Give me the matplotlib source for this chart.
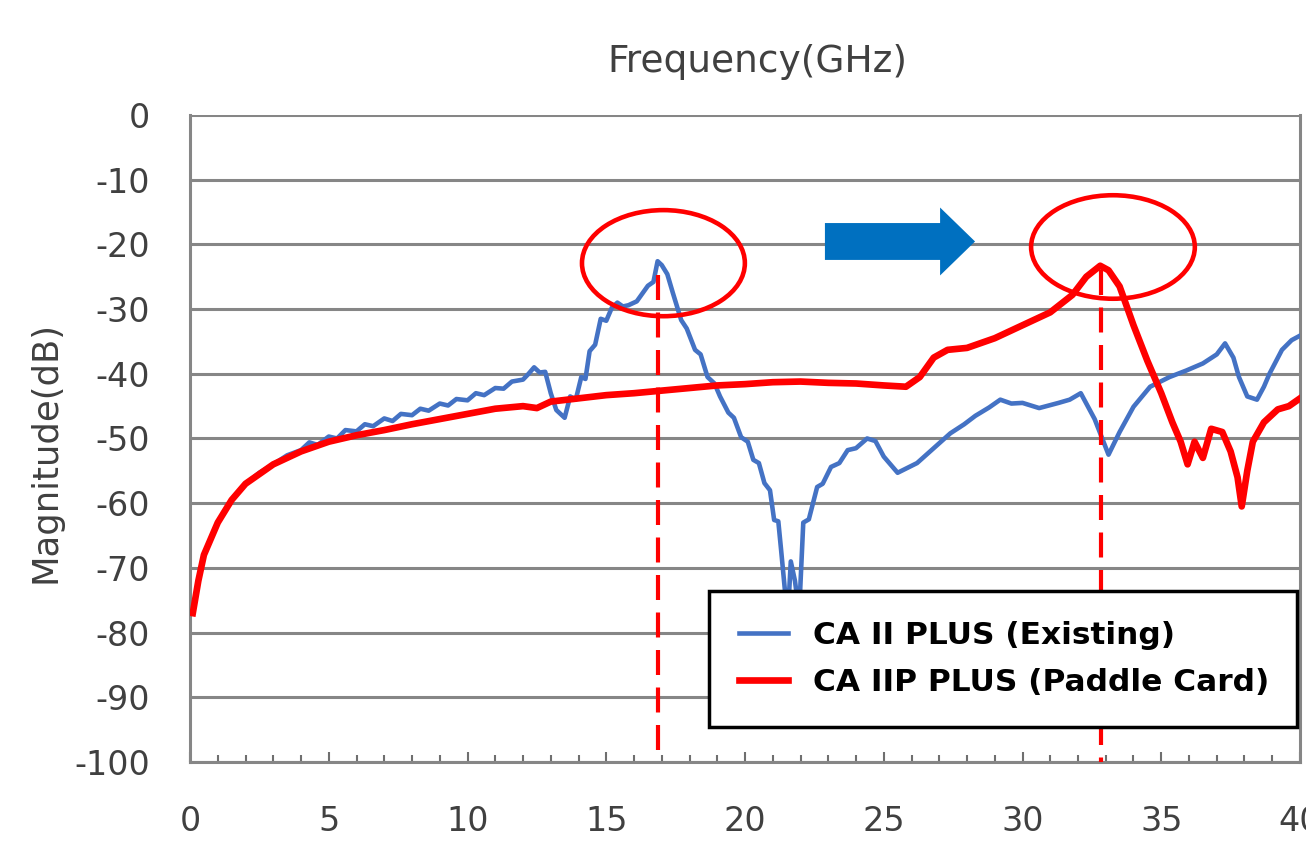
import numpy as np
import matplotlib.pyplot as plt
from matplotlib.patches import Ellipse, FancyArrow

plt.rcParams['axes.unicode_minus'] = False

# existing cable (blue)
blue_f = [0.1, 0.3, 0.5, 1.0, 1.5, 2.0, 2.5, 3.0, 3.5, 4.0, 4.3, 4.6, 5.0, 5.3, 5.6, 6.0, 6.3,
          6.6, 7.0, 7.3, 7.6, 8.0, 8.3, 8.6, 9.0, 9.3, 9.6, 10.0, 10.3, 10.6, 11.0, 11.3, 11.6,
          12.0, 12.2, 12.4, 12.6, 12.8, 13.0, 13.2, 13.5, 13.7, 13.9, 14.1, 14.25, 14.4, 14.6,
          14.8, 15.0, 15.2, 15.4, 15.6, 15.8, 16.1, 16.3, 16.5, 16.7, 16.85, 17.0, 17.2, 17.4,
          17.7, 17.9, 18.2, 18.4, 18.65, 18.9, 19.1, 19.4, 19.6, 19.86, 20.1, 20.3, 20.5, 20.7,
          20.9, 21.05, 21.2, 21.3, 21.45, 21.55, 21.65, 21.8, 21.95, 22.1, 22.3, 22.6, 22.8,
          23.1, 23.4, 23.7, 24.0, 24.4, 24.7, 25.0, 25.5, 26.2, 26.8, 27.4, 27.9, 28.3, 28.8,
          29.2, 29.6, 30.0, 30.6, 31.3, 31.7, 32.1, 32.6, 33.1, 33.5, 34.0, 34.6, 35.3, 35.9,
          36.5, 37.0, 37.3, 37.6, 37.8, 38.1, 38.45, 38.7, 38.9, 39.35, 39.7, 39.96]
blue_db = [-77, -72, -68, -63, -59.5, -57, -55.3, -54.0, -52.6, -51.8, -50.6, -51.0, -49.7, -50.0,
           -48.7, -48.9, -47.8, -48.1, -46.9, -47.3, -46.2, -46.4, -45.4, -45.7, -44.6, -44.9,
           -43.9, -44.1, -43.0, -43.3, -42.2, -42.3, -41.2, -40.9, -40.0, -39.0, -39.8, -39.7,
           -43.0, -45.6, -46.8, -43.5, -44.0, -40.5, -40.8, -36.5, -35.5, -31.5, -31.8, -29.8,
           -29.0, -29.6, -29.4, -28.8, -27.6, -26.4, -25.8, -22.6, -23.2, -24.6, -27.5, -31.7,
           -33.0, -36.3, -37.0, -40.5, -41.5, -43.5, -46.0, -46.8, -49.8, -50.5, -53.3, -53.8,
           -56.9, -58.0, -62.6, -62.8, -67.2, -74, -77, -69, -72, -77, -63, -62.5, -57.5, -57.0,
           -54.4, -53.8, -51.8, -51.5, -50.0, -50.4, -52.8, -55.3, -53.8, -51.5, -49.2, -47.8,
           -46.5, -45.2, -44.0, -44.6, -44.5, -45.3, -44.5, -44.0, -43.0, -47.0, -52.5, -49.0,
           -45.1, -42.0, -40.5, -39.5, -38.4, -37.0, -35.3, -37.5, -40.5, -43.5, -44.0, -42.0,
           -40.0, -36.3, -34.8, -34.2]

# paddle card (red)
red_f = [0.1, 0.3, 0.5, 1.0, 1.5, 2.0, 3.0, 4.0, 5.0, 6.0, 7.0, 8.0, 9.0, 10.0, 11.0, 12.0, 12.5,
         13.0, 14.0, 15.0, 16.0, 17.0, 18.0, 19.0, 20.0, 21.0, 22.0, 23.0, 24.0, 25.0, 25.8, 26.3,
         26.8, 27.3, 28.0, 29.0, 30.0, 31.0, 31.8, 32.3, 32.8, 33.1, 33.5, 34.0, 34.5, 35.0, 35.4,
         35.7, 35.95, 36.2, 36.5, 36.8, 37.2, 37.5, 37.75, 37.9, 38.1, 38.3, 38.7, 39.2, 39.6, 40.0]
red_db = [-77, -72, -68, -63, -59.5, -57, -54, -52, -50.5, -49.5, -48.7, -47.8, -47, -46.2, -45.4,
          -45, -45.3, -44.3, -43.8, -43.3, -43, -42.6, -42.2, -41.8, -41.6, -41.3, -41.2, -41.4,
          -41.5, -41.8, -42, -40.5, -37.5, -36.3, -36, -34.5, -32.5, -30.5, -27.8, -25, -23.3, -24,
          -26.5, -32.5, -38, -43, -47.5, -50.5, -54, -50.5, -53, -48.5, -49, -52, -56, -60.5, -55,
          -50.5, -47.5, -45.5, -45, -43.8]

labels = ['CA II PLUS (Existing)', 'CA IIP PLUS (Paddle Card)']
peaks = [16.86, 32.83]

fig = plt.figure(figsize=(13.06, 8.57), dpi=100)
ax = fig.add_axes([0.1455, 0.1109, 0.8499, 0.7549])

ax.plot(blue_f, blue_db, color='#4472C4', lw=3.3, label=labels[0], zorder=3)
ax.plot(red_f, red_db, color='#FF0000', lw=4.8, label=labels[1], zorder=4)

ax.set_xlim(0, 40)
ax.set_ylim(-100, 0)
ax.set_xticks(np.arange(0, 41, 5))
ax.set_xticks(np.arange(0, 41, 1), minor=True)
ax.set_yticks(np.arange(-100, 1, 10))
ax.yaxis.grid(True, color='#868686', lw=2.2)
ax.set_axisbelow(True)
for s in ax.spines.values():
    s.set_color('#868686')
    s.set_linewidth(2.2)
ax.spines['top'].set_visible(False)
ax.tick_params(axis='x', which='both', direction='in', color='#6f6f6f', width=1.5,
               labelsize=24, labelcolor='#404040', pad=31)
ax.tick_params(axis='x', which='major', length=7)
ax.tick_params(axis='x', which='minor', length=5)
ax.tick_params(axis='y', length=0, labelsize=24, labelcolor='#404040', pad=29)

# peak markers
for p, top in zip(peaks, [-24.7, -24.0]):
    ax.plot([p, p], [top, -100], color='#FF0000', lw=3, ls=(0, (6, 3)), zorder=5, clip_on=False)
ax.add_patch(Ellipse((17.06, -22.9), 5.87, 16.4, fill=False, ec='#FF0000', lw=3.3, zorder=6))
ax.add_patch(Ellipse((33.26, -20.4), 5.9, 16.0, fill=False, ec='#FF0000', lw=3.3, zorder=6))
ax.add_patch(FancyArrow(22.88, -19.55, 5.41, 0, width=5.7, head_width=10.5, head_length=1.26,
                        length_includes_head=True, color='#0070C0', lw=0, zorder=6))

leg = ax.legend(loc='lower left', bbox_to_anchor=(0.468, 0.054, 0.529, 0.209), mode='expand',
                borderaxespad=0, fancybox=False, framealpha=1, edgecolor='black',
                handlelength=1.55, handletextpad=0.8, prop={'weight': 'bold', 'size': 22.5},
                borderpad=0.95, labelspacing=0.6)
leg.get_frame().set_linewidth(2.5)
leg.set_zorder(10)

fig.text(757 / 1306, 1 - 62 / 857, 'Frequency(GHz)', ha='center', va='center',
         fontsize=27, color='#404040')
fig.text(45 / 1306, 1 - 452 / 857, 'Magnitude(dB)', ha='center', va='center',
         rotation=90, fontsize=25.5, color='#404040')

fig.savefig('out.png', dpi=100)
